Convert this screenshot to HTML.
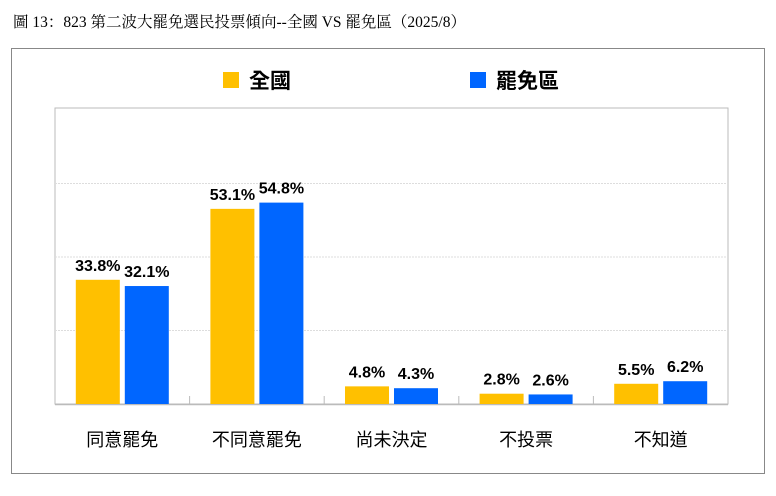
<!DOCTYPE html>
<html><head><meta charset="utf-8"><style>
body{margin:0;background:#fff;width:776px;height:496px;overflow:hidden;position:relative;font-family:"Liberation Sans","Noto Sans CJK TC",sans-serif}
#title{position:absolute;left:13px;top:10px;font-family:"Liberation Serif","Noto Serif CJK SC",serif;font-size:15.5px;color:#000;white-space:nowrap}
#frame{position:absolute;left:11px;top:48px;width:754px;height:426px;border:1.5px solid #888;box-sizing:border-box}
</style></head><body>
<div id="title">圖 13：823 第二波大罷免選民投票傾向--全國 VS 罷免區（2025/8）</div>
<div id="frame"></div>
<svg id="chart" width="776" height="496" style="position:absolute;left:0;top:0"></svg>
<script>
const categories=["同意罷免","不同意罷免","尚未決定","不投票","不知道"];
const nationalValues=[33.8,53.1,4.8,2.8,5.5];
const recallValues=[32.1,54.8,4.3,2.6,6.2];
const yTicks=[0,20,40,60,80];
const NS="http://www.w3.org/2000/svg";
const svg=document.getElementById("chart");
const L=55,R=728,T=110,B=404,yMax=80;
const y=v=>B-(v/yMax)*(B-T);
const cw=(R-L)/categories.length;
const x=i=>L+i*cw;
function mk(t,a){const e=document.createElementNS(NS,t);for(const k in a)e.setAttribute(k,a[k]);svg.appendChild(e);return e;}
// plot border
let pb=mk("rect",{x:L,y:108,width:R-L,height:B-108,fill:"none",stroke:"#bbb","stroke-width":1});


yTicks.forEach(t=>{if(t===0||t===yMax)return;const g=mk("line",{x1:L,x2:R,y1:y(t),y2:y(t),stroke:"#ddd","stroke-width":1,"stroke-dasharray":"2,1"});

});
let ax=mk("line",{x1:L,x2:R,y1:B+0.5,y2:B+0.5,stroke:"#bbb","stroke-width":1.5});


for(let i=1;i<categories.length;i++){const tk=mk("line",{x1:x(i),x2:x(i),y1:B-8,y2:B,stroke:"#bbb","stroke-width":1});

}
const bw=44,gap=5;
categories.forEach((c,i)=>{
  const cx=x(i)+cw/2;
  [[nationalValues[i],"#ffc000",cx-gap/2-bw,"bar-national"],[recallValues[i],"#0066ff",cx+gap/2,"bar-recall"]].forEach(([v,col,bx,nm])=>{
    const r=mk("rect",{x:bx,y:y(v),width:bw,height:B-y(v),fill:col});
    
    
    const t=mk("text",{x:bx+bw/2,y:y(v)-9,"text-anchor":"middle","font-size":"16","font-weight":"bold",fill:"#000"});
    t.textContent=v.toFixed(1)+"%";
    
    
  });
  const lt=mk("text",{x:cx,y:446,"text-anchor":"middle","font-size":"18",fill:"#000"});
  lt.textContent=c;
  
  
});
[["#ffc000",223,"全國","legend-national"],["#0066ff",470,"罷免區","legend-recall"]].forEach(([col,lx,txt,nm])=>{
  const s=mk("rect",{x:lx,y:72,width:16,height:16,fill:col});
  
  
  const t=mk("text",{x:lx+26,y:88,"font-size":"21","font-weight":"bold",fill:"#000"});
  t.textContent=txt;
  
  
});
</script>
</body></html>
